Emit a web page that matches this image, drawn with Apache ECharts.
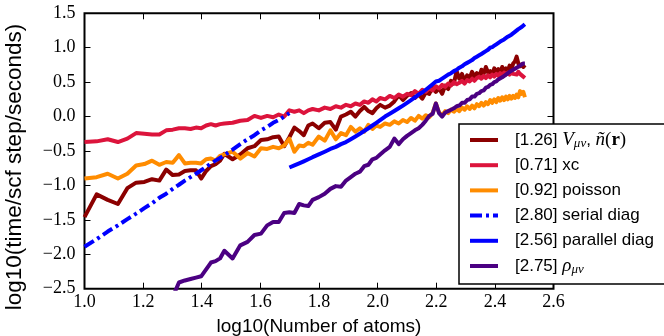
<!DOCTYPE html>
<html>
<head>
<meta charset="utf-8">
<script src="https://cdn.jsdelivr.net/npm/echarts@6/dist/echarts.min.js"></script>
<style>
html,body{margin:0;padding:0;background:#fff;}
#chart{width:664px;height:336px;}
</style>
</head>
<body>
<div id="chart"></div>
<script>
// Number of atoms (x axis shows log10 of these)
const atoms = [
  10,11,12,13,14,15,16,17,18,19,20,21,22,23,24,25,26,27,28,29,30,
  32,34,36,38,40,42,44,46,48,50,52,54,56,58,60,
  63,66,69,72,75,78,81,84,87,90,93,96,99,
  102,106,110,114,118,122,126,130,134,138,
  142,146,150,154,158,162,166,170,174,178,
  182,186,190,194,198,202,206,210,214,218,
  222,226,230,234,238,242,246,250,254,258,
  262,266,270,274,278,282,286,290,294,298,
  302,306,310,314,318
];

// log10(time / scf step / seconds) per series, aligned with atoms (null = no point)
const vMuNu = [
  -1.46,-1.13,-1.21,-1.27,-1.04,-0.96,-0.95,-0.91,-0.93,-0.77,-0.85,-0.84,-0.79,-0.78,-0.78,-0.90,-0.79,-0.72,-0.69,-0.64,-0.54,
  -0.62,-0.55,-0.46,-0.43,-0.34,-0.33,-0.30,-0.29,-0.43,-0.30,-0.16,-0.21,-0.27,-0.13,-0.10,
  -0.17,-0.09,-0.08,-0.19,0.00,0.03,0.07,0.00,0.08,0.14,0.08,0.05,0.12,
  0.17,0.13,0.16,0.22,0.31,0.24,0.30,0.34,0.27,0.32,
  0.26,0.35,0.33,0.43,0.36,0.41,0.33,0.45,0.40,0.52,
  0.48,0.66,0.55,0.62,0.51,0.60,0.56,0.65,0.58,0.63,
  0.57,0.68,0.62,0.72,0.64,0.66,0.61,0.70,0.65,0.69,
  0.63,0.72,0.67,0.70,0.66,0.74,0.69,0.77,0.80,0.87,
  0.77,0.73,0.76,0.72,0.75
];
const xc = [
  -0.37,-0.36,-0.33,-0.37,-0.32,-0.24,-0.25,-0.26,-0.26,-0.20,-0.19,-0.17,-0.17,-0.18,-0.16,-0.17,-0.13,-0.11,-0.13,-0.11,-0.10,
  -0.09,-0.06,-0.05,0.01,-0.02,0.01,-0.01,0.03,0.00,0.09,0.07,0.09,0.05,0.09,0.11,
  0.09,0.13,0.11,0.15,0.13,0.17,0.15,0.19,0.17,0.22,0.20,0.25,0.22,
  0.27,0.25,0.30,0.27,0.32,0.29,0.33,0.31,0.37,0.33,
  0.39,0.36,0.41,0.38,0.44,0.41,0.46,0.43,0.48,0.45,
  0.50,0.47,0.49,0.52,0.48,0.53,0.51,0.55,0.52,0.56,
  0.58,0.55,0.59,0.56,0.60,0.57,0.61,0.58,0.62,0.59,
  0.63,0.60,0.64,0.61,0.64,0.61,0.65,0.62,0.64,0.61,
  0.65,0.62,0.63,0.58,0.56
];
const poisson = [
  -0.90,-0.88,-0.83,-0.90,-0.83,-0.71,-0.69,-0.64,-0.70,-0.66,-0.67,-0.56,-0.68,-0.67,-0.67,-0.68,-0.62,-0.61,-0.64,-0.57,-0.55,
  -0.51,-0.61,-0.53,-0.58,-0.46,-0.47,-0.44,-0.46,-0.42,-0.32,-0.51,-0.42,-0.43,-0.38,-0.41,
  -0.29,-0.35,-0.20,-0.33,-0.24,-0.27,-0.15,-0.22,-0.17,-0.22,-0.12,-0.18,-0.13,
  -0.15,-0.10,-0.12,-0.07,-0.10,-0.05,-0.08,-0.02,-0.06,0.01,
  -0.03,0.02,-0.01,0.05,0.19,0.06,0.02,0.08,0.05,0.10,
  0.07,0.11,0.08,0.13,0.10,0.15,0.11,0.16,0.12,0.18,
  0.15,0.20,0.16,0.21,0.18,0.24,0.20,0.25,0.21,0.27,
  0.23,0.28,0.24,0.29,0.25,0.30,0.26,0.30,0.27,0.32,
  0.28,0.37,0.33,0.36,0.28
];
const serialDiag = [
  -1.89,-1.78,-1.67,-1.58,-1.49,-1.41,-1.33,-1.26,-1.18,-1.12,-1.05,-0.99,-0.93,-0.88,-0.83,-0.78,-0.73,-0.68,-0.64,-0.60,-0.56,
  -0.48,-0.40,-0.33,-0.27,-0.20,-0.15,-0.09,-0.05,0.00,0.05,
  null,null,null,null,null,
  null,null,null,null,null,null,null,null,null,null,null,null,null,
  null,null,null,null,null,null,null,null,null,null,
  null,null,null,null,null,null,null,null,null,null,
  null,null,null,null,null,null,null,null,null,null,
  null,null,null,null,null,null,null,null,null,null,
  null,null,null,null,null,null,null,null,null,null,
  null,null,null,null,null
];
const parallelDiag = [
  null,null,null,null,null,null,null,null,null,null,null,null,null,null,null,null,null,null,null,null,null,
  null,null,null,null,null,null,null,null,null,-0.74,-0.71,-0.68,-0.65,-0.62,-0.59,
  -0.55,-0.51,-0.47,-0.44,-0.40,-0.37,-0.33,-0.29,-0.25,-0.21,-0.17,-0.13,-0.09,
  -0.05,0.00,0.04,0.08,0.12,0.16,0.20,0.24,0.28,0.32,
  0.35,0.39,0.43,0.47,0.51,0.52,0.55,0.58,0.61,0.63,
  0.66,0.68,0.71,0.73,0.76,0.78,0.80,0.82,0.85,0.87,
  0.89,0.91,0.93,0.95,0.97,1.00,1.01,1.03,1.05,1.07,
  1.09,1.10,1.12,1.14,1.16,1.18,1.19,1.21,1.23,1.25,
  1.27,1.28,1.30,1.32,1.34
];
const rhoMuNu = [
  null,null,null,null,null,null,null,null,null,null,-2.62,-2.41,-2.38,-2.36,-2.34,-2.32,-2.22,-2.12,-2.10,-2.06,-1.95,
  -2.06,-1.87,-1.82,-1.72,-1.70,-1.58,-1.53,-1.53,-1.40,-1.39,-1.40,-1.27,-1.29,-1.30,-1.21,
  -1.17,-1.12,-1.05,-1.01,-1.02,-0.93,-0.88,-0.83,-0.80,-0.72,-0.70,-0.62,-0.60,
  -0.55,-0.49,-0.44,-0.32,-0.40,-0.33,-0.28,-0.24,-0.20,-0.17,
  -0.12,-0.06,0.01,0.04,0.19,0.05,0.00,0.06,0.08,0.10,
  0.12,0.15,0.16,0.20,0.20,0.24,0.25,0.29,0.29,0.33,
  0.34,0.37,0.38,0.42,0.43,0.46,0.47,0.50,0.51,0.54,
  0.55,0.57,0.58,0.61,0.62,0.65,0.65,0.68,0.68,0.71,
  0.71,0.74,0.74,0.77,0.77
];

const seriesNames = ['V', 'xc', 'poisson', 'serial diag', 'parallel diag', 'rho'];
const slopes = ['1.26', '0.71', '0.92', '2.80', '2.56', '2.75'];
const seriesValues = [vMuNu, xc, poisson, serialDiag, parallelDiag, rhoMuNu];
const colors = ['#8b0000', '#dc143c', '#ff8c00', '#0000ff', '#0000ff', '#4b0082'];
const xTicks = { min: 1.0, max: 2.6, step: 0.2 };
const yTicks = { min: -2.5, max: 1.5, step: 0.5 };

function toPairs(vals) {
  const out = [];
  atoms.forEach((n, i) => { if (vals[i] !== null) out.push([Math.log10(n), vals[i]]); });
  return out;
}

const fmt = v => (v < 0 ? '\u2212' : '') + Math.abs(v).toFixed(1);

const chart = echarts.init(document.getElementById('chart'), null, { renderer: 'canvas' });

const tickFont = { fontFamily: 'Liberation Serif', fontSize: 18, color: '#000' };

function legendFormatter(name) {
  const i = seriesNames.indexOf(name);
  const pre = '{p|[' + slopes[i] + '] }';
  if (name === 'V') return pre + '{m|V}{s|\u03bc\u03bd}{a|, }{m|\u00f1}{r|(}{b|r}{r|)}';
  if (name === 'rho') return pre + '{m|\u03c1}{s|\u03bc\u03bd}';
  return pre + '{a|' + name + '}';
}

const solidIcon = 'path://M0,0H28V4H0Z';
const dashDotIcon = 'path://M0,0H12V4H0Z M16,0H19V4H16Z M23,0H28V4H23Z';

const series = seriesNames.map((name, i) => ({
  name: name,
  type: 'line',
  data: toPairs(seriesValues[i]),
  showSymbol: false,
  symbol: 'none',
  clip: true,
  animation: false,
  color: colors[i],
  lineStyle: {
    color: colors[i],
    width: 4,
    type: name === 'serial diag' ? [11, 4, 3, 4] : 'solid',
    join: 'round'
  },
  emphasis: { disabled: true },
  xAxisIndex: 0,
  yAxisIndex: 0
}));

const option = {
  backgroundColor: '#fff',
  animation: false,
  grid: {
    left: 84.5, right: 110.5, top: 13.3, bottom: 47.3,
    containLabel: false, outerBoundsMode: 'none',
    show: true, borderColor: '#000', borderWidth: 2, backgroundColor: 'transparent'
  },
  xAxis: [
    {
      type: 'value', min: xTicks.min, max: xTicks.max, interval: xTicks.step,
      position: 'bottom',
      axisLine: { show: false, onZero: false },
      axisTick: { show: true, inside: true, length: 6, lineStyle: { color: '#000', width: 1 } },
      axisLabel: { show: true, margin: 5, formatter: fmt, ...tickFont },
      splitLine: { show: false },
      name: 'log10(Number of atoms)', nameLocation: 'middle', nameGap: 29,
      nameTextStyle: { fontFamily: 'Liberation Sans', fontSize: 19, color: '#000' }
    },
    {
      type: 'value', min: xTicks.min, max: xTicks.max, interval: xTicks.step,
      position: 'top',
      axisLine: { show: false, onZero: false },
      axisTick: { show: true, inside: true, length: 6, lineStyle: { color: '#000', width: 1 } },
      axisLabel: { show: false },
      splitLine: { show: false }
    }
  ],
  yAxis: [
    {
      type: 'value', min: yTicks.min, max: yTicks.max, interval: yTicks.step,
      position: 'left',
      axisLine: { show: false, onZero: false },
      axisTick: { show: true, inside: true, length: 6, lineStyle: { color: '#000', width: 1 } },
      axisLabel: { show: true, margin: 9, formatter: fmt, ...tickFont },
      splitLine: { show: false },
      name: 'log10(time/scf step/seconds)', nameLocation: 'middle', nameGap: 58,
      nameTextStyle: { fontFamily: 'Liberation Sans', fontSize: 22.5, color: '#000', padding: [0, 32, 0, 0] }
    },
    {
      type: 'value', min: yTicks.min, max: yTicks.max, interval: yTicks.step,
      position: 'right',
      axisLine: { show: false, onZero: false },
      axisTick: { show: true, inside: true, length: 6, lineStyle: { color: '#000', width: 1 } },
      axisLabel: { show: false },
      splitLine: { show: false }
    }
  ],
  legend: {
    orient: 'vertical',
    left: 459, top: 124,
    padding: [6, 14, 8, 11],
    itemWidth: 28, itemHeight: 4, itemGap: 5.2,
    borderColor: '#000', borderWidth: 1.5, borderRadius: 0,
    backgroundColor: '#fff',
    selectedMode: false,
    data: seriesNames.map(n => ({ name: n, icon: n === 'serial diag' ? dashDotIcon : solidIcon })),
    formatter: legendFormatter,
    textStyle: {
      fontFamily: 'Liberation Sans', fontSize: 17, color: '#000', lineHeight: 20,
      rich: {
        p: { fontFamily: 'Liberation Sans', fontSize: 17, color: '#000', lineHeight: 20, padding: [0, 0, 0, 12] },
        a: { fontFamily: 'Liberation Sans', fontSize: 17, color: '#000', lineHeight: 20 },
        m: { fontFamily: 'Liberation Serif', fontStyle: 'italic', fontSize: 19, color: '#000', lineHeight: 20 },
        r: { fontFamily: 'Liberation Serif', fontSize: 19, color: '#000', lineHeight: 20 },
        b: { fontFamily: 'Liberation Serif', fontWeight: 'bold', fontSize: 19, color: '#000', lineHeight: 20 },
        s: { fontFamily: 'Liberation Serif', fontStyle: 'italic', fontSize: 13, color: '#000', lineHeight: 10, verticalAlign: 'bottom' }
      }
    }
  },
  series: series
};

chart.setOption(option);
</script>
</body>
</html>
